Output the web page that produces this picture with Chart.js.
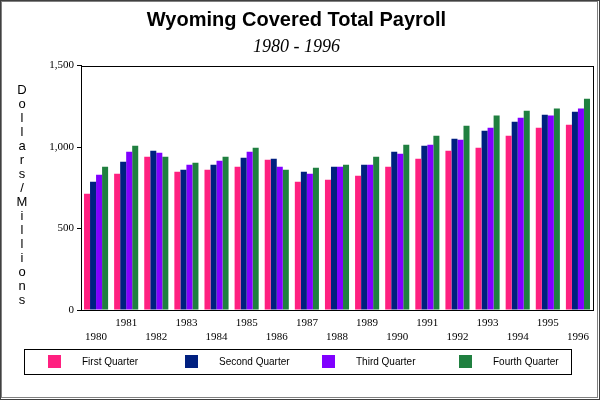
<!DOCTYPE html>
<html lang="en">

<head>
    <meta charset="UTF-8">
    <title>Wyoming Covered Total Payroll</title>

    <!-- Chart.js for the bar chart -->
    <script src="https://cdn.jsdelivr.net/npm/chart.js"></script>

    <style>
        body {
            margin: 0;
            background: #fff;
        }

        .chart-box {
            width: 600px;
            height: 400px;
        }
    </style>
</head>

<body>

<div class="chart-box">
    <canvas id="payrollChart" width="600" height="400"></canvas>
</div>

<script>
    // Data (millions of dollars)
    const years = ['1980', '1981', '1982', '1983', '1984', '1985', '1986', '1987', '1988',
                   '1989', '1990', '1991', '1992', '1993', '1994', '1995', '1996'];
    const firstQuarter  = [713, 836, 941, 848, 861, 879, 922, 787, 799, 824, 879, 928, 977, 996, 1070, 1119, 1137];
    const secondQuarter = [787, 910, 977, 861, 891, 934, 928, 848, 879, 891, 971, 1008, 1051, 1100, 1156, 1199, 1217];
    const thirdQuarter  = [830, 971, 965, 891, 916, 971, 879, 836, 879, 891, 959, 1014, 1045, 1119, 1180, 1193, 1236];
    const fourthQuarter = [879, 1008, 941, 904, 941, 996, 861, 873, 891, 941, 1014, 1070, 1131, 1193, 1223, 1236, 1297];
    const quarterNames  = ['First Quarter', 'Second Quarter', 'Third Quarter', 'Fourth Quarter'];
    const quarterColors = ['#ff2080', '#002080', '#8000ff', '#208040'];
    const yTicks = [0, 500, 1000, 1500];
    const yAxisTitle = 'Dollars/Millions';

    // Frame, plot box, stacked axis title and boxed legend
    const decorPlugin = {
        id: 'decor',
        beforeDraw(chart) {
            const ctx = chart.ctx;
            ctx.save();
            ctx.fillStyle = '#fff';
            ctx.fillRect(0, 0, chart.width, chart.height);
            ctx.restore();
        },
        afterDraw(chart) {
            const ctx = chart.ctx;
            const area = chart.chartArea;
            ctx.save();

            // outer frame
            ctx.lineWidth = 1;
            ctx.strokeStyle = '#404040';
            ctx.strokeRect(0.5, 0.5, chart.width - 1, chart.height - 1);
            ctx.strokeStyle = '#808080';
            ctx.strokeRect(1.5, 1.5, chart.width - 4, chart.height - 4);

            // box round the plot
            ctx.strokeStyle = '#000';
            ctx.strokeRect(Math.round(area.left) + 0.5, Math.round(area.top) + 0.5,
                Math.round(area.right - area.left), Math.round(area.bottom - area.top));

            // y axis title, one letter under the other
            ctx.fillStyle = '#000';
            ctx.font = '13px "Liberation Sans"';
            ctx.textAlign = 'center';
            ctx.textBaseline = 'middle';
            for (let i = 0; i < yAxisTitle.length; i++) {
                ctx.fillText(yAxisTitle[i], 22, area.top + 25 + i * 14);
            }

            // legend box
            const boxTop = Math.round(area.bottom) + 39;
            ctx.strokeRect(24.5, boxTop + 0.5, 547, 25);
            ctx.font = '10px "Liberation Sans"';
            ctx.textAlign = 'left';
            chart.data.datasets.forEach((ds, i) => {
                const x = 48 + i * 137;
                ctx.fillStyle = ds.backgroundColor;
                ctx.fillRect(x, boxTop + 6, 13, 13);
                ctx.fillStyle = '#000';
                ctx.fillText(ds.label, x + 34, boxTop + 13);
            });

            ctx.restore();
        }
    };

    const ctx = document.getElementById('payrollChart').getContext('2d');

    new Chart(ctx, {
        type: 'bar',
        data: {
            labels: years,
            datasets: [firstQuarter, secondQuarter, thirdQuarter, fourthQuarter].map((values, i) => ({
                label: quarterNames[i],
                data: values,
                backgroundColor: quarterColors[i],
                borderWidth: 0,
                categoryPercentage: 0.8,
                barPercentage: 1.0
            }))
        },
        options: {
            responsive: false,
            animation: false,
            devicePixelRatio: 1,
            layout: {
                padding: { left: 0, right: 7, top: 0, bottom: 50 }
            },
            scales: {
                x: {
                    grid: { display: false },
                    border: { color: '#000' },
                    ticks: {
                        autoSkip: false,
                        maxRotation: 0,
                        color: '#000',
                        padding: -1,
                        font: { family: 'Liberation Serif', size: 11, lineHeight: 1.2 },
                        // odd years on the upper row, even years on the lower one
                        callback: (value, i) => i % 2 ? [years[i], ''] : ['', years[i]]
                    },
                    afterFit: scale => { scale.height = 40; }
                },
                y: {
                    min: 0,
                    max: 1500,
                    afterBuildTicks: scale => { scale.ticks = yTicks.map(v => ({ value: v })); },
                    ticks: {
                        color: '#000',
                        padding: 3,
                        font: { family: 'Liberation Serif', size: 11 }
                    },
                    grid: { drawOnChartArea: false, tickLength: 4, color: '#000' },
                    border: { color: '#000' },
                    afterFit: scale => { scale.width = 81; }
                }
            },
            plugins: {
                title: {
                    display: true,
                    text: 'Wyoming Covered Total Payroll',
                    color: '#000',
                    font: { family: 'Liberation Sans', size: 20, weight: 'bold', lineHeight: 1.2 },
                    padding: { top: 8, bottom: 0 }
                },
                subtitle: {
                    display: true,
                    text: '1980 - 1996',
                    color: '#000',
                    font: { family: 'Liberation Serif', size: 18, style: 'italic', lineHeight: 1.2 },
                    padding: { top: 4, bottom: 8 }
                },
                legend: { display: false },
                tooltip: { enabled: false }
            }
        },
        plugins: [decorPlugin]
    });
</script>
</body>
</html>
